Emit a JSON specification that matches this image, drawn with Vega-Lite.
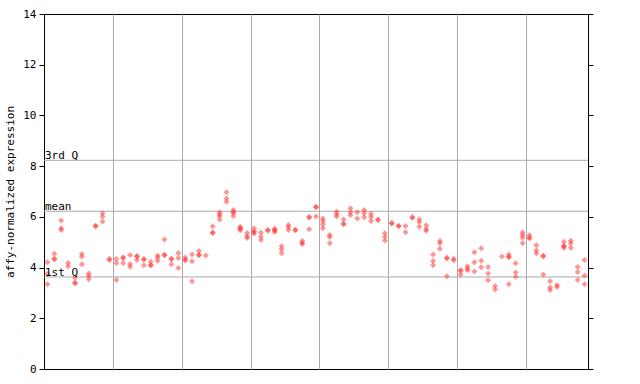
{
  "$schema": "https://vega.github.io/schema/vega-lite/v6.json",
  "width": 544,
  "height": 355,
  "autosize": {"type": "none"},
  "padding": {"left": 44, "top": 14, "right": 52, "bottom": 15},
  "background": "white",
  "config": {
    "view": {"stroke": "black", "strokeWidth": 1},
    "font": "DejaVu Sans Mono"
  },
  "datasets": {
    "pts": [
      {"s":0,"v":4.21},{"s":0,"v":3.75},{"s":0,"v":3.34},
      {"s":1,"v":4.55},{"s":1,"v":4.35},{"s":1,"v":4.33},
      {"s":2,"v":5.86},{"s":2,"v":5.55},{"s":2,"v":5.48},
      {"s":3,"v":4.18},{"s":3,"v":4.05},
      {"s":4,"v":3.6},{"s":4,"v":3.4},{"s":4,"v":3.38},
      {"s":5,"v":4.54},{"s":5,"v":4.43},{"s":5,"v":4.13},
      {"s":6,"v":3.77},{"s":6,"v":3.67},{"s":6,"v":3.54},
      {"s":7,"v":5.65},{"s":7,"v":5.63},
      {"s":8,"v":6.14},{"s":8,"v":6.01},{"s":8,"v":5.82},
      {"s":9,"v":4.35},{"s":9,"v":4.3},
      {"s":10,"v":4.34},{"s":10,"v":4.18},{"s":10,"v":3.51},
      {"s":11,"v":4.4},{"s":11,"v":4.38},{"s":11,"v":4.18},
      {"s":12,"v":4.5},{"s":12,"v":4.14},{"s":12,"v":4.03},
      {"s":13,"v":4.46},{"s":13,"v":4.43},{"s":13,"v":4.3},
      {"s":14,"v":4.34},{"s":14,"v":4.32},{"s":14,"v":4.09},
      {"s":15,"v":4.23},{"s":15,"v":4.1},{"s":15,"v":4.08},
      {"s":16,"v":4.48},{"s":16,"v":4.4},{"s":16,"v":4.27},
      {"s":17,"v":5.11},{"s":17,"v":4.51},{"s":17,"v":4.49},
      {"s":18,"v":4.35},{"s":18,"v":4.33},{"s":18,"v":4.13},
      {"s":19,"v":4.57},{"s":19,"v":4.38},{"s":19,"v":3.98},
      {"s":20,"v":4.4},{"s":20,"v":4.31},{"s":20,"v":4.29},
      {"s":21,"v":4.52},{"s":21,"v":4.25},{"s":21,"v":3.46},
      {"s":22,"v":4.65},{"s":22,"v":4.51},{"s":22,"v":4.49},
      {"s":23,"v":4.48},
      {"s":24,"v":5.63},{"s":24,"v":5.38},{"s":24,"v":5.36},
      {"s":25,"v":6.18},{"s":25,"v":6.1},{"s":25,"v":6.03},{"s":25,"v":5.9},
      {"s":26,"v":6.97},{"s":26,"v":6.72},{"s":26,"v":6.6},
      {"s":27,"v":6.27},{"s":27,"v":6.18},{"s":27,"v":6.16},{"s":27,"v":6.03},
      {"s":28,"v":5.61},{"s":28,"v":5.55},{"s":28,"v":5.53},{"s":28,"v":5.47},
      {"s":29,"v":5.36},{"s":29,"v":5.24},{"s":29,"v":5.17},
      {"s":30,"v":5.55},{"s":30,"v":5.42},{"s":30,"v":5.4},{"s":30,"v":5.34},
      {"s":31,"v":5.38},{"s":31,"v":5.22},{"s":31,"v":5.09},
      {"s":32,"v":5.48},{"s":32,"v":5.46},
      {"s":33,"v":5.53},{"s":33,"v":5.48},{"s":33,"v":5.46},{"s":33,"v":5.4},
      {"s":34,"v":4.84},{"s":34,"v":4.72},{"s":34,"v":4.56},
      {"s":35,"v":5.68},{"s":35,"v":5.59},{"s":35,"v":5.48},
      {"s":36,"v":5.49},{"s":36,"v":5.47},
      {"s":37,"v":5.05},{"s":37,"v":4.96},{"s":37,"v":4.94},
      {"s":38,"v":5.99},{"s":38,"v":5.97},{"s":38,"v":5.51},
      {"s":39,"v":6.4},{"s":39,"v":6.38},{"s":39,"v":6.01},
      {"s":40,"v":5.94},{"s":40,"v":5.84},{"s":40,"v":5.71},{"s":40,"v":5.55},
      {"s":41,"v":5.28},{"s":41,"v":5.21},{"s":41,"v":4.96},
      {"s":42,"v":6.2},{"s":42,"v":6.1},{"s":42,"v":6.01},
      {"s":43,"v":5.9},{"s":43,"v":5.73},{"s":43,"v":5.71},
      {"s":44,"v":6.34},{"s":44,"v":6.18},{"s":44,"v":6.07},
      {"s":45,"v":6.18},{"s":45,"v":5.94},
      {"s":46,"v":6.27},{"s":46,"v":6.14},{"s":46,"v":5.98},
      {"s":47,"v":6.11},{"s":47,"v":5.99},{"s":47,"v":5.84},
      {"s":48,"v":5.9},{"s":48,"v":5.88},
      {"s":49,"v":5.35},{"s":49,"v":5.22},{"s":49,"v":5.07},
      {"s":50,"v":5.76},{"s":50,"v":5.74},
      {"s":51,"v":5.65},{"s":51,"v":5.63},
      {"s":52,"v":5.64},{"s":52,"v":5.39},
      {"s":53,"v":5.98},{"s":53,"v":5.96},
      {"s":54,"v":5.9},{"s":54,"v":5.8},{"s":54,"v":5.61},
      {"s":55,"v":5.67},{"s":55,"v":5.52},{"s":55,"v":5.45},
      {"s":56,"v":4.52},{"s":56,"v":4.26},{"s":56,"v":4.09},
      {"s":57,"v":5.05},{"s":57,"v":4.96},{"s":57,"v":4.74},
      {"s":58,"v":4.4},{"s":58,"v":4.35},{"s":58,"v":3.66},
      {"s":59,"v":4.35},{"s":59,"v":4.29},
      {"s":60,"v":3.89},{"s":60,"v":3.87},{"s":60,"v":3.73},
      {"s":61,"v":4.05},{"s":61,"v":3.96},{"s":61,"v":3.89},
      {"s":62,"v":4.6},{"s":62,"v":4.21},{"s":62,"v":3.85},
      {"s":63,"v":4.76},{"s":63,"v":4.27},{"s":63,"v":4.01},
      {"s":64,"v":4.02},{"s":64,"v":3.77},{"s":64,"v":3.5},
      {"s":65,"v":3.27},{"s":65,"v":3.14},
      {"s":66,"v":4.44},
      {"s":67,"v":4.52},{"s":67,"v":4.43},{"s":67,"v":4.41},{"s":67,"v":3.34},
      {"s":68,"v":4.17},{"s":68,"v":3.81},{"s":68,"v":3.64},
      {"s":69,"v":5.38},{"s":69,"v":5.27},{"s":69,"v":5.18},{"s":69,"v":4.96},
      {"s":70,"v":5.27},{"s":70,"v":5.18},{"s":70,"v":5.16},
      {"s":71,"v":4.88},{"s":71,"v":4.67},{"s":71,"v":4.56},
      {"s":72,"v":4.47},{"s":72,"v":4.45},{"s":72,"v":3.73},
      {"s":73,"v":3.46},{"s":73,"v":3.21},{"s":73,"v":3.12},
      {"s":74,"v":3.3},{"s":74,"v":3.23},
      {"s":75,"v":5.02},{"s":75,"v":4.86},{"s":75,"v":4.84},{"s":75,"v":4.78},
      {"s":76,"v":5.06},{"s":76,"v":4.96},{"s":76,"v":4.78},
      {"s":77,"v":4.02},{"s":77,"v":3.83},{"s":77,"v":3.51},
      {"s":78,"v":4.3},{"s":78,"v":3.69},{"s":78,"v":3.34}
    ],
    "stats": [
      {"label": "3rd Q", "v": 8.23},
      {"label": "mean", "v": 6.22},
      {"label": "1st Q", "v": 3.63}
    ]
  },
  "resolve": {"axis": {"y": "independent"}},
  "layer": [
    {
      "data": {"name": "stats"},
      "mark": {"type": "rule", "color": "#aaaaaa", "strokeWidth": 1},
      "encoding": {
        "y": {
          "field": "v", "type": "quantitative",
          "scale": {"domain": [0, 14], "nice": false, "zero": true},
          "axis": {
            "orient": "left", "title": "affy-normalized expression",
            "values": [0, 2, 4, 6, 8, 10, 12, 14], "grid": false,
            "domainColor": "black", "tickColor": "black", "tickSize": 5,
            "labelColor": "black", "labelFont": "DejaVu Sans Mono", "labelFontSize": 11,
            "labelPadding": 3,
            "titleFont": "DejaVu Sans Mono", "titleFontSize": 11, "titleFontWeight": "normal",
            "titleColor": "black", "titlePadding": 7
          }
        }
      }
    },
    {
      "data": {"name": "pts"},
      "mark": {"type": "point", "shape": "diamond", "filled": true, "color": "#ff4040", "opacity": 0.55, "size": 36},
      "encoding": {
        "x": {
          "field": "s", "type": "quantitative",
          "scale": {"domain": [-0.5, 78.5], "nice": false, "zero": false},
          "axis": {
            "values": [9.5, 19.5, 29.5, 39.5, 49.5, 59.5, 69.5],
            "grid": true, "gridColor": "#aaaaaa", "gridOpacity": 1, "gridWidth": 1,
            "labels": false, "ticks": false, "domain": false, "title": null
          }
        },
        "y": {
          "field": "v", "type": "quantitative",
          "scale": {"domain": [0, 14], "nice": false, "zero": true},
          "axis": {
            "orient": "right", "title": null, "values": [0, 2, 4, 6, 8, 10, 12, 14],
            "grid": false, "labels": false, "domainColor": "black", "tickColor": "black", "tickSize": 5
          }
        }
      }
    },
    {
      "data": {"name": "stats"},
      "mark": {"type": "text", "align": "left", "baseline": "bottom", "dx": 1, "dy": 1, "font": "DejaVu Sans Mono", "fontSize": 11, "color": "black"},
      "encoding": {
        "x": {"datum": -0.5, "type": "quantitative"},
        "y": {"field": "v", "type": "quantitative", "axis": null},
        "text": {"field": "label"}
      }
    }
  ]
}
